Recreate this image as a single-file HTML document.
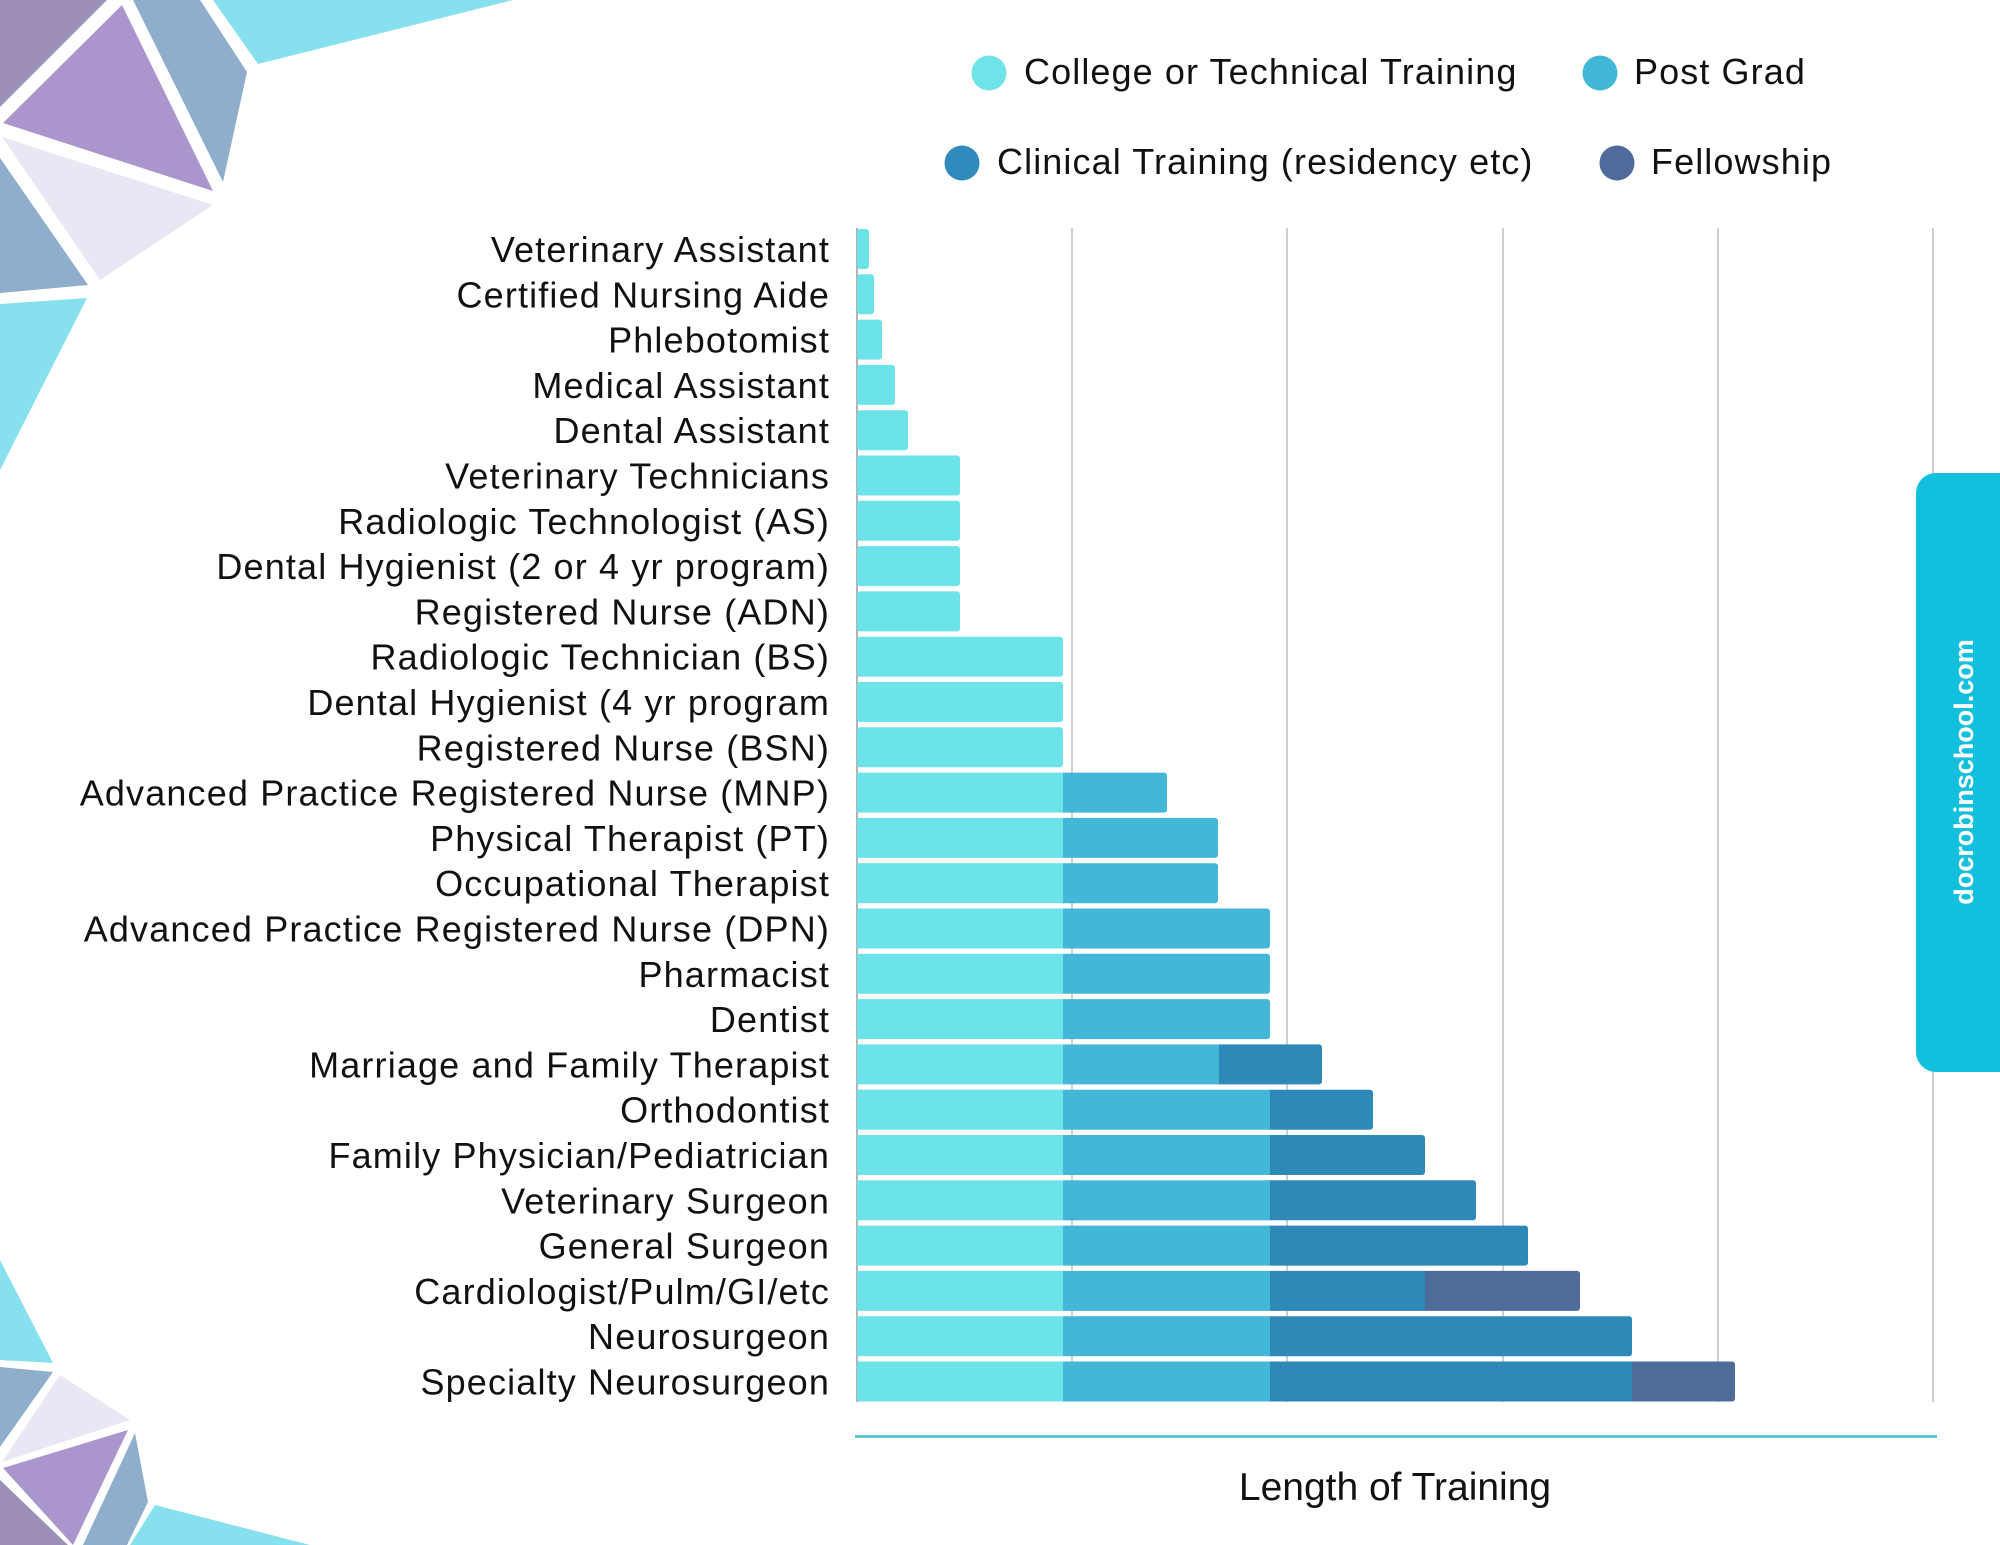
<!DOCTYPE html>
<html>
<head>
<meta charset="utf-8">
<style>
html,body{margin:0;padding:0;background:#fff;}
svg{display:block;}
text{font-family:"Liberation Sans",Arial,sans-serif;}
</style>
</head>
<body>
<svg width="2000" height="1545" viewBox="0 0 2000 1545" xmlns="http://www.w3.org/2000/svg">
<rect x="0" y="0" width="2000" height="1545" fill="#ffffff"/>

<!-- top-left decoration -->
<polygon points="0,0 107,0 0,107" fill="#9d8fb5"/>
<polygon points="122,5 3,123 213,191" fill="#aa96cc"/>
<polygon points="133,0 200,0 247,72 223,182" fill="#8eaecb"/>
<polygon points="213,0 513,0 258,64" fill="#86e0ed"/>
<polygon points="2,137 213,205 100,280" fill="#ebe6f4"/>
<polygon points="0,158 88,285 0,293" fill="#8eaecb"/>
<polygon points="0,304 87,298 0,470" fill="#86e0ed"/>

<!-- bottom-left decoration -->
<polygon points="0,1260 53,1363 0,1360" fill="#86e0ed"/>
<polygon points="0,1367 53,1372 0,1447" fill="#8eaecb"/>
<polygon points="60,1375 130,1420 2,1462" fill="#ebe6f4"/>
<polygon points="3,1468 128,1430 73,1545" fill="#aa96cc"/>
<polygon points="0,1480 68,1545 0,1545" fill="#9d8fb5"/>
<polygon points="135,1433 148,1502 127,1545 83,1545" fill="#8eaecb"/>
<polygon points="155,1505 310,1545 130,1545" fill="#86e0ed"/>

<!-- legend -->
<g font-size="36" fill="#111" letter-spacing="1.1">
<circle cx="989" cy="73" r="17.5" fill="#6ee4e9"/>
<text x="1024" y="84">College or Technical Training</text>
<circle cx="1600" cy="73" r="17.5" fill="#43b7d7"/>
<text x="1634" y="84">Post Grad</text>
<circle cx="962" cy="163" r="17.5" fill="#2e8bbb"/>
<text x="997" y="174">Clinical Training (residency etc)</text>
<circle cx="1617" cy="163" r="17.5" fill="#4f6b9b"/>
<text x="1651" y="174">Fellowship</text>
</g>

<!-- gridlines -->
<g stroke="#cfcfcf" stroke-width="2">
<line x1="1072" y1="228" x2="1072" y2="1402"/>
<line x1="1287" y1="228" x2="1287" y2="1402"/>
<line x1="1503" y1="228" x2="1503" y2="1402"/>
<line x1="1718" y1="228" x2="1718" y2="1402"/>
<line x1="1933" y1="228" x2="1933" y2="1402"/>
</g>
<line x1="857" y1="228" x2="857" y2="1402" stroke="#9a9a9a" stroke-width="1.5"/>

<!-- bars -->
<g>
<rect x="857" y="229.0" width="12" height="40" rx="3" fill="#6be3e8"/>
<rect x="857" y="274.3" width="17" height="40" rx="3" fill="#6be3e8"/>
<rect x="857" y="319.6" width="25" height="40" rx="3" fill="#6be3e8"/>
<rect x="857" y="364.9" width="38" height="40" rx="3" fill="#6be3e8"/>
<rect x="857" y="410.2" width="51" height="40" rx="3" fill="#6be3e8"/>
<rect x="857" y="455.5" width="103" height="40" rx="3" fill="#6be3e8"/>
<rect x="857" y="500.8" width="103" height="40" rx="3" fill="#6be3e8"/>
<rect x="857" y="546.1" width="103" height="40" rx="3" fill="#6be3e8"/>
<rect x="857" y="591.4" width="103" height="40" rx="3" fill="#6be3e8"/>
<rect x="857" y="636.7" width="206" height="40" rx="3" fill="#6be3e8"/>
<rect x="857" y="682.0" width="206" height="40" rx="3" fill="#6be3e8"/>
<rect x="857" y="727.3" width="206" height="40" rx="3" fill="#6be3e8"/>

<rect x="1059" y="772.6" width="108" height="40" rx="3" fill="#43b7d7"/>
<rect x="857" y="772.6" width="206" height="40" fill="#6be3e8"/>
<rect x="1059" y="817.9" width="159" height="40" rx="3" fill="#43b7d7"/>
<rect x="857" y="817.9" width="206" height="40" fill="#6be3e8"/>
<rect x="1059" y="863.2" width="159" height="40" rx="3" fill="#43b7d7"/>
<rect x="857" y="863.2" width="206" height="40" fill="#6be3e8"/>
<rect x="1059" y="908.5" width="211" height="40" rx="3" fill="#43b7d7"/>
<rect x="857" y="908.5" width="206" height="40" fill="#6be3e8"/>
<rect x="1059" y="953.8" width="211" height="40" rx="3" fill="#43b7d7"/>
<rect x="857" y="953.8" width="206" height="40" fill="#6be3e8"/>
<rect x="1059" y="999.1" width="211" height="40" rx="3" fill="#43b7d7"/>
<rect x="857" y="999.1" width="206" height="40" fill="#6be3e8"/>

<rect x="1215" y="1044.4" width="107" height="40" rx="3" fill="#2e89b8"/>
<rect x="1063" y="1044.4" width="156" height="40" fill="#43b7d7"/>
<rect x="857" y="1044.4" width="206" height="40" fill="#6be3e8"/>
<rect x="1266" y="1089.7" width="107" height="40" rx="3" fill="#2e89b8"/>
<rect x="1063" y="1089.7" width="207" height="40" fill="#43b7d7"/>
<rect x="857" y="1089.7" width="206" height="40" fill="#6be3e8"/>
<rect x="1266" y="1135.0" width="159" height="40" rx="3" fill="#2e89b8"/>
<rect x="1063" y="1135.0" width="207" height="40" fill="#43b7d7"/>
<rect x="857" y="1135.0" width="206" height="40" fill="#6be3e8"/>
<rect x="1266" y="1180.3" width="210" height="40" rx="3" fill="#2e89b8"/>
<rect x="1063" y="1180.3" width="207" height="40" fill="#43b7d7"/>
<rect x="857" y="1180.3" width="206" height="40" fill="#6be3e8"/>
<rect x="1266" y="1225.6" width="262" height="40" rx="3" fill="#2e89b8"/>
<rect x="1063" y="1225.6" width="207" height="40" fill="#43b7d7"/>
<rect x="857" y="1225.6" width="206" height="40" fill="#6be3e8"/>
<rect x="1421" y="1270.9" width="159" height="40" rx="3" fill="#4e6b9a"/>
<rect x="1270" y="1270.9" width="155" height="40" fill="#2e89b8"/>
<rect x="1063" y="1270.9" width="207" height="40" fill="#43b7d7"/>
<rect x="857" y="1270.9" width="206" height="40" fill="#6be3e8"/>
<rect x="1266" y="1316.2" width="366" height="40" rx="3" fill="#2e89b8"/>
<rect x="1063" y="1316.2" width="207" height="40" fill="#43b7d7"/>
<rect x="857" y="1316.2" width="206" height="40" fill="#6be3e8"/>
<rect x="1628" y="1361.5" width="107" height="40" rx="3" fill="#4e6b9a"/>
<rect x="1270" y="1361.5" width="362" height="40" fill="#2e89b8"/>
<rect x="1063" y="1361.5" width="207" height="40" fill="#43b7d7"/>
<rect x="857" y="1361.5" width="206" height="40" fill="#6be3e8"/>
</g>

<!-- category labels -->
<g font-size="36" fill="#111" text-anchor="end" letter-spacing="1.15">
<text x="830" y="262">Veterinary Assistant</text>
<text x="830" y="307.3">Certified Nursing Aide</text>
<text x="830" y="352.6">Phlebotomist</text>
<text x="830" y="397.9">Medical Assistant</text>
<text x="830" y="443.2">Dental Assistant</text>
<text x="830" y="488.5">Veterinary Technicians</text>
<text x="830" y="533.8">Radiologic Technologist (AS)</text>
<text x="830" y="579.1">Dental Hygienist (2 or 4 yr program)</text>
<text x="830" y="624.4">Registered Nurse (ADN)</text>
<text x="830" y="669.7">Radiologic Technician (BS)</text>
<text x="830" y="715">Dental Hygienist (4 yr program</text>
<text x="830" y="760.3">Registered Nurse (BSN)</text>
<text x="830" y="805.6">Advanced Practice Registered Nurse (MNP)</text>
<text x="830" y="850.9">Physical Therapist (PT)</text>
<text x="830" y="896.2">Occupational Therapist</text>
<text x="830" y="941.5">Advanced Practice Registered Nurse (DPN)</text>
<text x="830" y="986.8">Pharmacist</text>
<text x="830" y="1032.1">Dentist</text>
<text x="830" y="1077.4">Marriage and Family Therapist</text>
<text x="830" y="1122.7">Orthodontist</text>
<text x="830" y="1168">Family Physician/Pediatrician</text>
<text x="830" y="1213.3">Veterinary Surgeon</text>
<text x="830" y="1258.6">General Surgeon</text>
<text x="830" y="1303.9">Cardiologist/Pulm/GI/etc</text>
<text x="830" y="1349.2">Neurosurgeon</text>
<text x="830" y="1394.5">Specialty Neurosurgeon</text>
</g>

<!-- x axis line and title -->
<line x1="855" y1="1436.5" x2="1937" y2="1436.5" stroke="#3cc2cf" stroke-width="2.5"/>
<text x="1395" y="1500" font-size="39" fill="#111" text-anchor="middle">Length of Training</text>

<!-- side tab -->
<rect x="1916" y="473" width="120" height="599" rx="20" ry="20" fill="#12bfdd"/>
<text transform="translate(1973,772) rotate(-90)" x="0" y="0" font-size="27" font-weight="bold" fill="#ffffff" text-anchor="middle">docrobinschool.com</text>
</svg>
</body>
</html>
